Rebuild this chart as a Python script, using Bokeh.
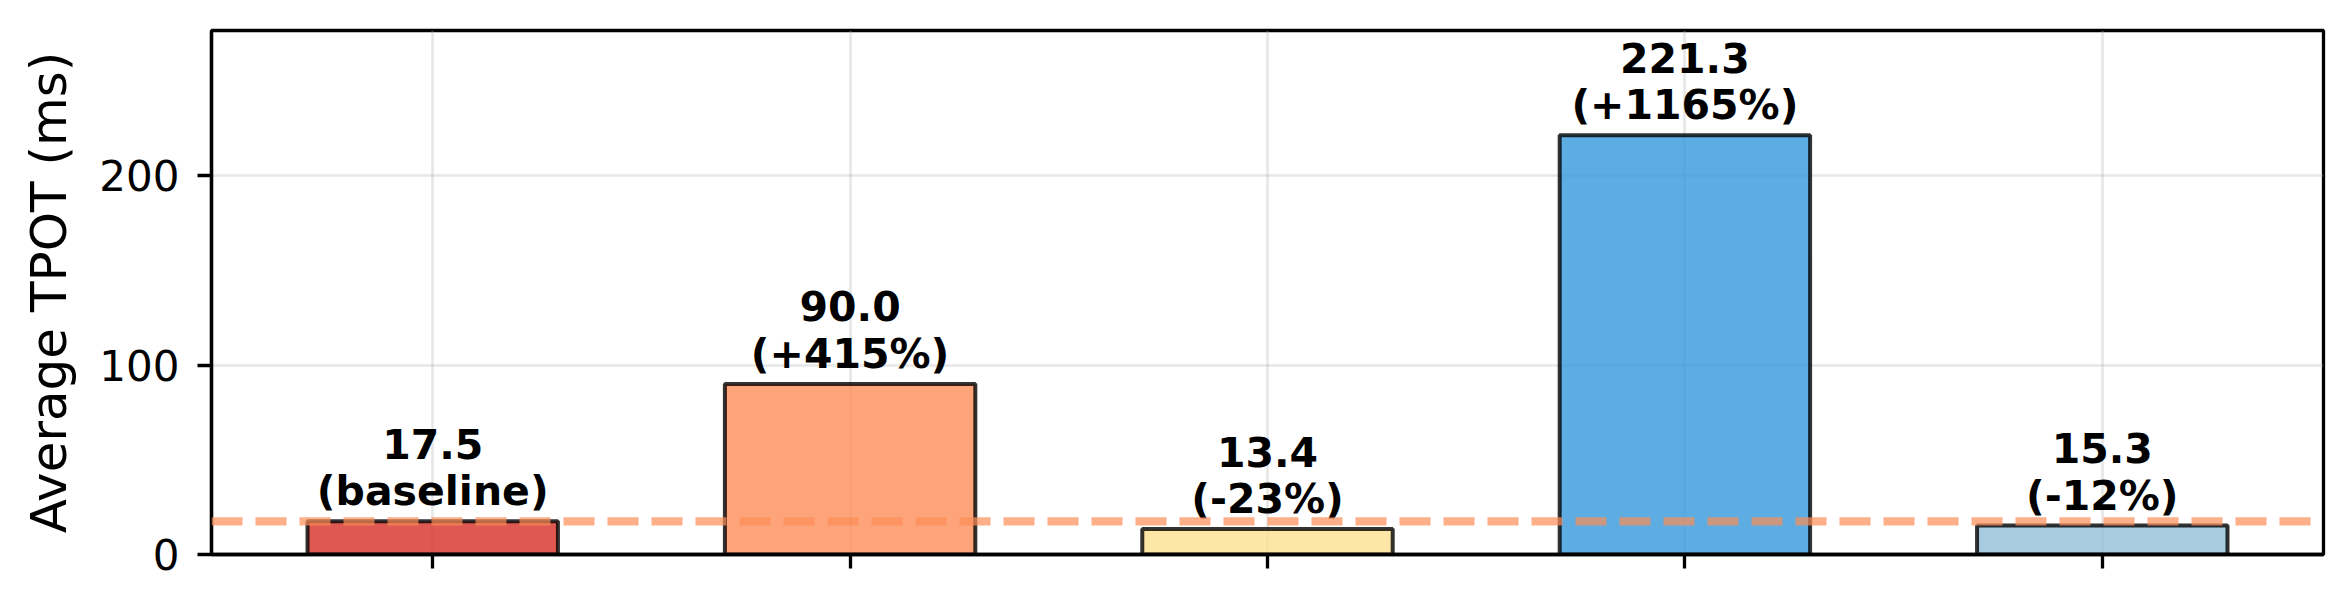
from bokeh.plotting import figure
from bokeh.models import Range1d, FixedTicker, Span, ColumnDataSource
from bokeh.core.properties import value
from bokeh.embed import file_html
from bokeh.resources import INLINE

# ---- data ----
tpot_values = [17.5, 90.0, 13.4, 221.3, 15.3]
change_labels = ["(baseline)", "(+415%)", "(-23%)", "(+1165%)", "(-12%)"]
bar_colors = ["#d73027", "#fc8d59", "#fee090", "#3498db", "#91bfdb"]
y_ticks = [0, 100, 200]
y_label = "Average TPOT (ms)"

xs = list(range(len(tpot_values)))
labels = [f"{v:.1f}\n{c}" for v, c in zip(tpot_values, change_labels)]
src = ColumnDataSource(dict(x=xs, top=tpot_values, color=bar_colors, label=labels))

FONT = "DejaVu Sans"

p = figure(width=2352, height=612, output_backend="svg", toolbar_location=None,
           x_range=Range1d(-0.53, len(xs) - 1 + 0.53),
           y_range=Range1d(0, max(tpot_values) * 1.25),
           min_border_left=211, min_border_right=29, min_border_top=30, min_border_bottom=58)

p.vbar(x="x", top="top", bottom=0, width=0.6, source=src,
       fill_color="color", fill_alpha=0.8, line_color="black", line_alpha=0.8, line_width=4)

p.text(x="x", y="top", text="label", source=src, text_align="center", text_baseline="bottom",
       y_offset=-6, text_font=value(FONT), text_font_style="bold", text_font_size="41px",
       text_color="black", text_line_height=0.97)

p.add_layout(Span(location=tpot_values[0], dimension="width", line_color="#fc8d59",
                  line_alpha=0.7, line_width=8.3, line_dash="31 13"))

# axes
p.outline_line_color = "black"
p.outline_line_width = 3.3
p.outline_line_alpha = 1.0

p.xaxis.ticker = FixedTicker(ticks=xs)
p.xaxis.major_label_overrides = {i: "" for i in xs}
p.yaxis.ticker = FixedTicker(ticks=y_ticks)
for ax in (p.xaxis, p.yaxis):
    ax.axis_line_width = 3.3
    ax.axis_line_color = "black"
    ax.major_tick_line_width = 3.3
    ax.major_tick_line_color = "black"
    ax.major_tick_out = 14
    ax.major_tick_in = 0
    ax.minor_tick_line_color = None
    ax.major_label_text_font = FONT
    ax.major_label_text_font_size = "42px"
    ax.major_label_text_color = "black"
    ax.major_label_standoff = 18

p.yaxis.axis_label = y_label
p.yaxis.axis_label_text_font = FONT
p.yaxis.axis_label_text_font_size = "50px"
p.yaxis.axis_label_text_font_style = "normal"
p.yaxis.axis_label_text_color = "black"
p.yaxis.axis_label_standoff = 18

p.xgrid.ticker = FixedTicker(ticks=xs)
p.ygrid.ticker = FixedTicker(ticks=y_ticks)
for g in (p.xgrid, p.ygrid):
    g.grid_line_color = "#b0b0b0"
    g.grid_line_alpha = 0.3
    g.grid_line_width = 2.7

p.background_fill_color = "white"
p.border_fill_color = "white"

open("out.html", "w").write(file_html(p, INLINE))
